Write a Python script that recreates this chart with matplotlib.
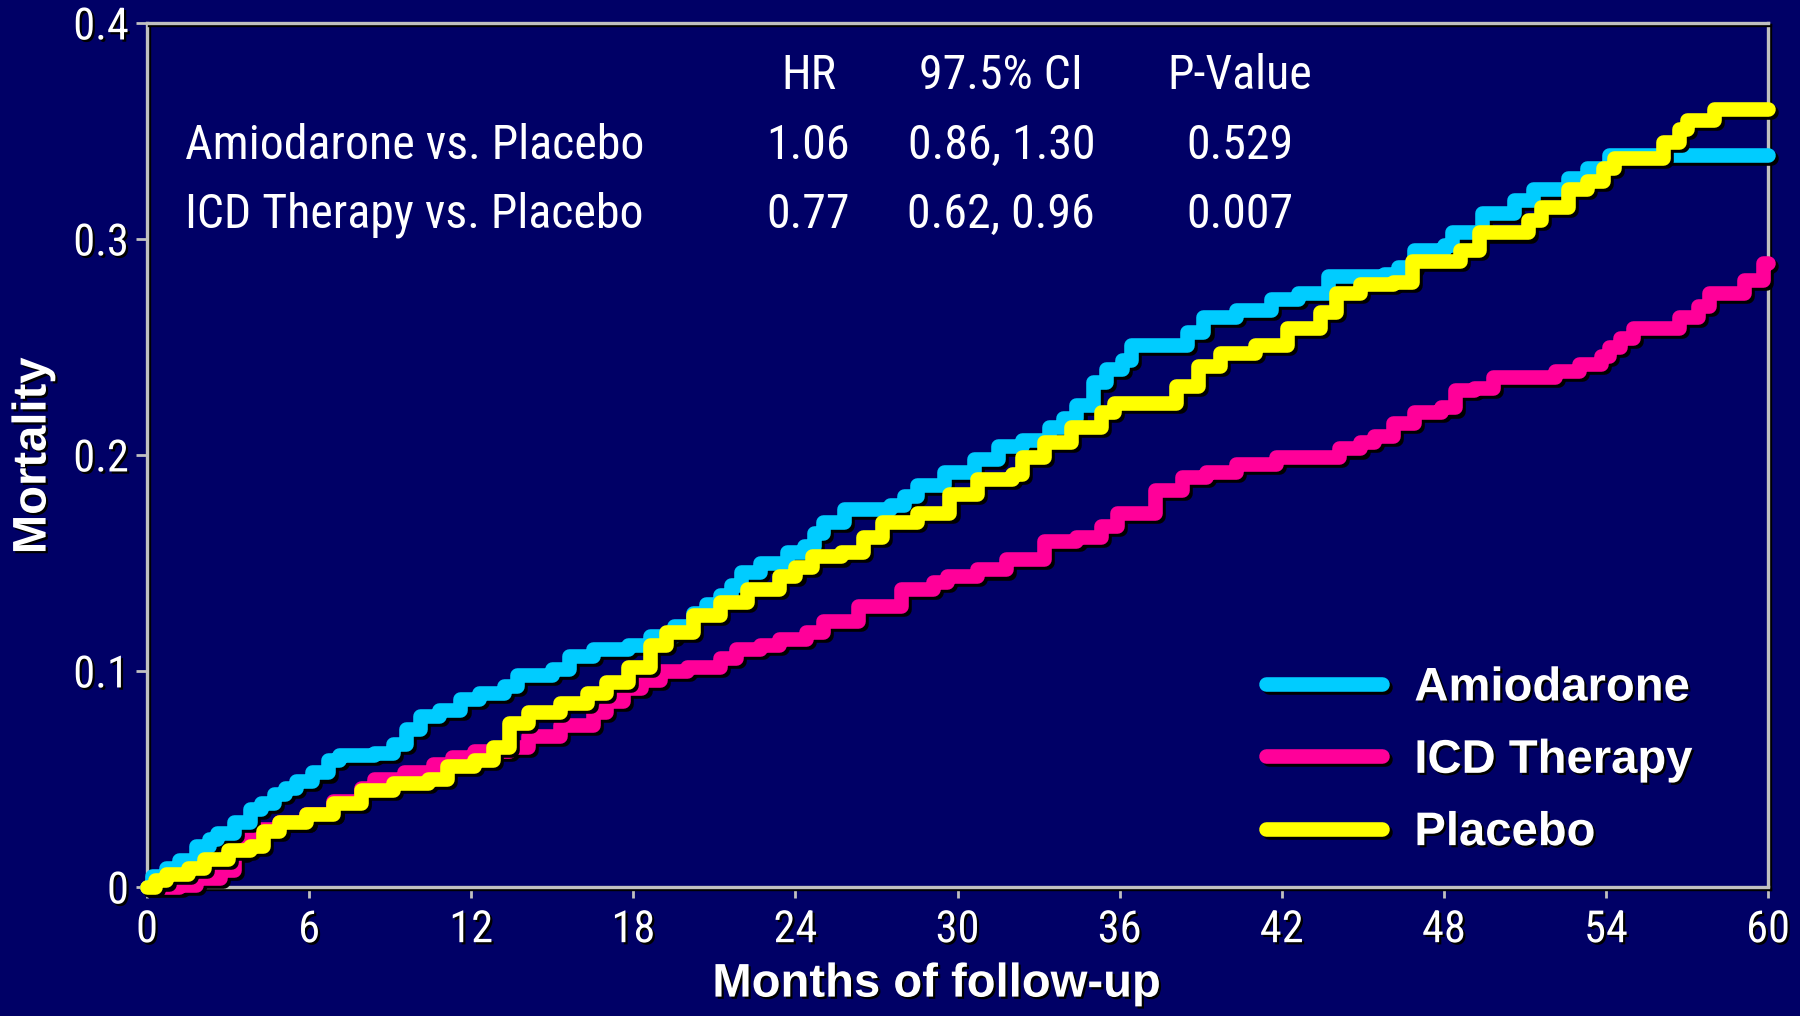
import matplotlib
matplotlib.use("Agg")
import matplotlib.pyplot as plt
import matplotlib.patheffects as pe
from matplotlib import font_manager as fm

# cumulative mortality, stepped (month, value) pairs
amio_t = [0, 0.2, 0.7, 1.2, 1.8, 2.3, 2.6, 3.2, 3.8, 4.2, 4.7, 5.1, 5.5, 6.1, 6.7, 7.1,
          8.4, 9.1, 9.6, 10.1, 10.8, 11.6, 12.3, 13.2, 13.7, 15.0, 15.6, 16.5, 17.8, 18.6,
          19.5, 20.2, 20.7, 21.2, 21.6, 22.0, 22.7, 23.7, 24.3, 24.7, 25.0, 25.8, 27.5, 28.0,
          28.5, 29.5, 30.6, 31.5, 32.4, 33.4, 33.9, 34.4, 35.0, 35.5, 36.1, 36.4, 38.5, 39.1,
          40.3, 41.6, 42.6, 43.7, 45.8, 46.3, 46.9, 48.0, 48.3, 49.4, 50.6, 51.3, 52.6, 53.3,
          54.1, 60]
amio_v = [0, 0.005, 0.009, 0.0125, 0.019, 0.022, 0.025, 0.030, 0.036, 0.039, 0.043, 0.046, 0.049, 0.053, 0.059, 0.061,
          0.062, 0.066, 0.073, 0.079, 0.082, 0.087, 0.090, 0.093, 0.098, 0.101, 0.107, 0.110, 0.112, 0.116,
          0.121, 0.127, 0.131, 0.135, 0.140, 0.146, 0.150, 0.155, 0.158, 0.164, 0.169, 0.175, 0.177, 0.181,
          0.186, 0.192, 0.198, 0.204, 0.207, 0.213, 0.217, 0.223, 0.234, 0.240, 0.244, 0.251, 0.257, 0.264,
          0.267, 0.272, 0.275, 0.283, 0.284, 0.287, 0.295, 0.297, 0.303, 0.312, 0.318, 0.323, 0.328, 0.333,
          0.339, 0.339]

icd_t = [0, 1.2, 1.8, 2.7, 3.2, 3.6, 4.1, 4.9, 5.9, 6.9, 7.9, 8.4, 9.5, 10.6, 11.3, 12.1,
         13.4, 14.1, 15.3, 16.5, 17.0, 17.6, 18.3, 19.0, 20.0, 21.2, 21.8, 22.7, 23.4, 24.4,
         25.0, 26.3, 27.9, 29.1, 29.6, 30.7, 31.8, 33.2, 34.4, 35.3, 35.9, 37.3, 38.3, 39.2,
         40.3, 41.8, 44.1, 44.9, 45.4, 46.1, 46.9, 47.9, 48.4, 49.1, 49.8, 52.1, 53.0, 53.8,
         54.1, 54.5, 55.0, 56.7, 57.4, 57.8, 59.1, 59.8, 60]
icd_v = [0, 0.001, 0.004, 0.008, 0.016, 0.022, 0.027, 0.030, 0.034, 0.040, 0.046, 0.050, 0.053, 0.057, 0.060, 0.063,
         0.065, 0.070, 0.075, 0.081, 0.086, 0.092, 0.096, 0.100, 0.102, 0.106, 0.110, 0.112, 0.115, 0.118,
         0.123, 0.130, 0.138, 0.141, 0.144, 0.147, 0.152, 0.160, 0.162, 0.167, 0.173, 0.184, 0.190, 0.192,
         0.196, 0.199, 0.203, 0.206, 0.209, 0.215, 0.220, 0.222, 0.230, 0.231, 0.236, 0.239, 0.242, 0.246,
         0.250, 0.254, 0.259, 0.264, 0.269, 0.275, 0.281, 0.289, 0.289]

plac_t = [0, 0.3, 0.7, 1.5, 2.1, 3.0, 3.8, 4.3, 4.9, 5.9, 6.9, 7.9, 9.1, 10.4, 11.1, 12.1,
          12.8, 13.4, 14.1, 15.3, 16.3, 17.0, 17.8, 18.6, 19.2, 20.2, 21.2, 22.2, 23.4, 24.0,
          24.6, 25.7, 26.5, 27.2, 28.5, 29.7, 30.7, 32.0, 32.4, 33.2, 34.2, 35.3, 35.8, 38.1,
          38.9, 39.7, 41.0, 42.2, 43.4, 44.0, 44.9, 46.1, 46.8, 48.6, 49.3, 51.1, 51.6, 52.6,
          53.3, 53.9, 54.3, 56.1, 56.7, 57.0, 58.0, 60]
plac_v = [0, 0.003, 0.006, 0.009, 0.013, 0.017, 0.019, 0.026, 0.030, 0.034, 0.039, 0.045, 0.048, 0.050, 0.056, 0.059,
          0.065, 0.076, 0.081, 0.085, 0.090, 0.095, 0.102, 0.112, 0.118, 0.126, 0.132, 0.138, 0.144, 0.148,
          0.153, 0.155, 0.162, 0.169, 0.173, 0.182, 0.189, 0.191, 0.199, 0.206, 0.213, 0.220, 0.224, 0.232,
          0.241, 0.247, 0.251, 0.259, 0.266, 0.275, 0.279, 0.280, 0.290, 0.295, 0.303, 0.309, 0.315, 0.323,
          0.327, 0.333, 0.3375, 0.345, 0.351, 0.355, 0.360, 0.360]

series_names = ["ICD Therapy", "Amiodarone", "Placebo"]
series_colors = ["#FF0099", "#00CCFF", "#FFFF00"]
legend_order = ["Amiodarone", "ICD Therapy", "Placebo"]

x_ticks = [0, 6, 12, 18, 24, 30, 36, 42, 48, 54, 60]
y_ticks = [0, 0.1, 0.2, 0.3, 0.4]
y_tick_labels = ["0", "0.1", "0.2", "0.3", "0.4"]

table_header = ["HR", "97.5% CI", "P-Value"]
table_rows = ["Amiodarone vs. Placebo", "ICD Therapy vs. Placebo"]
table_hr = ["1.06", "0.77"]
table_ci = ["0.86, 1.30", "0.62, 0.96"]
table_p = ["0.529", "0.007"]


def narrow_font():
    """Regular-weight condensed face if one is installed, else None."""
    prefs = ["liberation sans narrow", "arial narrow", "roboto condensed",
             "dejavu sans", "open sans", "noto sans", "inter", "lato"]
    hits = []
    for f in fm.fontManager.ttflist:
        name = f.name.lower()
        narrow = ("narrow" in name or "condensed" in name or
                  str(f.stretch) in ("condensed", "semi-condensed", "extra-condensed"))
        if not narrow or f.style != "normal":
            continue
        if f.weight not in (400, "normal", "regular", "book"):
            continue
        if "condensed" not in f.fname.lower() and "narrow" not in f.fname.lower():
            continue
        rank = next((i for i, p in enumerate(prefs) if name.startswith(p)), len(prefs))
        hits.append((rank, f.fname))
    if hits:
        return fm.FontProperties(fname=sorted(hits)[0][1])
    return None


narrow_fp = narrow_font()
if narrow_fp is not None:
    tick_size, table_size = 32, 34.5
else:
    # no condensed face: plain Arial-metric sans, a size down
    narrow_fp = fm.FontProperties(family="Liberation Sans")
    tick_size, table_size = 29, 29

BG = "#000066"
GRAY = "#C0C0C0"
line_shadow = [pe.SimpleLineShadow(offset=(2.2, -2.2), shadow_color="black", alpha=1), pe.Normal()]
text_shadow = [pe.withSimplePatchShadow(offset=(1.6, -1.6), shadow_rgbFace="black", alpha=1)]

fig = plt.figure(figsize=(18, 10.16), dpi=100, facecolor=BG)
ax = fig.add_axes([0.0817, 0.127, 0.9006, 0.8504])
ax.set_facecolor(BG)

data = {
    "Amiodarone": (amio_t, amio_v),
    "ICD Therapy": (icd_t, icd_v),
    "Placebo": (plac_t, plac_v),
}
handles = {}
for name, color in zip(series_names, series_colors):
    t, v = data[name]
    ln, = ax.plot(t, v, drawstyle="steps-post", color=color, lw=10.5,
                  solid_capstyle="round", solid_joinstyle="round",
                  clip_on=False, zorder=3, label=name)
    ln.set_path_effects(line_shadow)
    handles[name] = ln

ax.set_xlim(0, 60)
ax.set_ylim(0, 0.4)

for s in ax.spines.values():
    s.set_color(GRAY)
    s.set_linewidth(2.4)
    s.set_path_effects([pe.SimpleLineShadow(offset=(1.4, -1.4), shadow_color="black", alpha=1), pe.Normal()])

ax.set_xticks(x_ticks)
ax.set_yticks(y_ticks)
ax.set_yticklabels(y_tick_labels)
ax.tick_params(direction="out", length=8, width=2, color=GRAY, labelcolor="white", pad=5)
ax.tick_params(axis="x", pad=8)
for lab in ax.get_xticklabels() + ax.get_yticklabels():
    lab.set_fontproperties(narrow_fp)
    lab.set_fontsize(tick_size)
    lab.set_path_effects(text_shadow)

ax.set_xlabel("Months of follow-up", fontsize=34, fontweight="bold", color="white",
              family="Liberation Sans", path_effects=text_shadow)
ax.xaxis.set_label_coords(0.487, -0.113)
ax.xaxis.label.set_va("center")
ax.set_ylabel("Mortality", fontsize=34, fontweight="bold", color="white",
              family="Liberation Sans", path_effects=text_shadow)
ax.yaxis.set_label_coords(-0.07, 0.499)
ax.yaxis.label.set_va("center")

# hazard ratio table
tfp = narrow_fp.copy()
tfp.set_size(table_size)
tkw = dict(transform=ax.transAxes, color="white", fontproperties=tfp, va="center")
col_x = [0.408, 0.527, 0.674]
row_y = [0.858, 0.778]
for x, h in zip(col_x, table_header):
    ax.text(x, 0.939, h, ha="center", **tkw)
for y, name, hr, ci, p in zip(row_y, table_rows, table_hr, table_ci, table_p):
    ax.text(0.0234, y, name, ha="left", **tkw)
    ax.text(col_x[0], y, hr, ha="center", **tkw)
    ax.text(col_x[1], y, ci, ha="center", **tkw)
    ax.text(col_x[2], y, p, ha="center", **tkw)

leg = ax.legend([handles[n] for n in legend_order], legend_order,
                loc="center left", bbox_to_anchor=(0.690, 0.146), frameon=False,
                prop=dict(family="Liberation Sans", weight="bold", size=34),
                handlelength=2.47, handletextpad=0.68, labelspacing=0.6,
                borderpad=0, borderaxespad=0)
for txt in leg.get_texts():
    txt.set_color("white")
    txt.set_path_effects(text_shadow)

fig.savefig("out.png", dpi=100, facecolor=BG)
